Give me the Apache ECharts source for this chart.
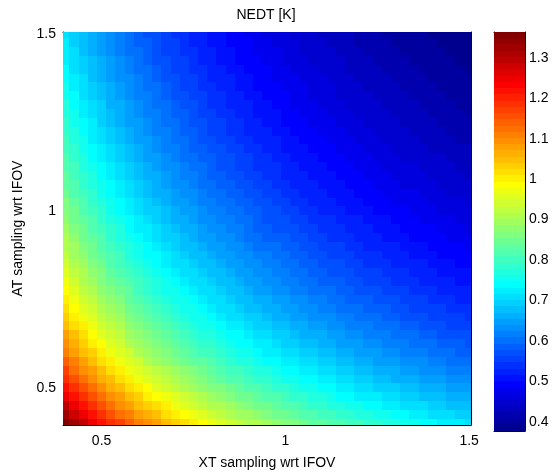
<!DOCTYPE html>
<html>
<head>
<meta charset="utf-8">
<script src="https://cdn.jsdelivr.net/npm/echarts@6/dist/echarts.min.js"></script>
<style>
  html, body { margin: 0; padding: 0; background: #ffffff; }
  #chart { width: 559px; height: 475px; }
</style>
</head>
<body>
<div id="chart"></div>
<script>
// Sampling grid (multiples of the IFOV), cross track and along track
const xtSampling = [0.400, 0.425, 0.450, 0.475, 0.500, 0.525, 0.550, 0.575, 0.600, 0.625, 0.650, 0.675,
                    0.700, 0.725, 0.750, 0.775, 0.800, 0.825, 0.850, 0.875, 0.900, 0.925, 0.950, 0.975,
                    1.000, 1.025, 1.050, 1.075, 1.100, 1.125, 1.150, 1.175, 1.200, 1.225, 1.250, 1.275,
                    1.300, 1.325, 1.350, 1.375, 1.400, 1.425, 1.450, 1.475, 1.500];
const atSampling = [0.400, 0.425, 0.450, 0.475, 0.500, 0.525, 0.550, 0.575, 0.600, 0.625, 0.650, 0.675,
                    0.700, 0.725, 0.750, 0.775, 0.800, 0.825, 0.850, 0.875, 0.900, 0.925, 0.950, 0.975,
                    1.000, 1.025, 1.050, 1.075, 1.100, 1.125, 1.150, 1.175, 1.200, 1.225, 1.250, 1.275,
                    1.300, 1.325, 1.350, 1.375, 1.400, 1.425, 1.450, 1.475, 1.500];

// NEDT [K]; one row per AT sampling value (bottom to top), columns follow xtSampling
const nedtRows = [
  [1.364,1.324,1.287,1.253,1.222,1.193,1.166,1.141,1.117,1.095,1.074,1.054,1.035,1.018,1.001,0.985,0.970,0.955,0.941,0.928,0.915,0.903,0.891,0.880,0.869,0.859,0.849,0.839,0.830,0.821,0.812,0.803,0.795,0.787,0.779,0.772,0.765,0.758,0.751,0.744,0.737,0.731,0.725,0.719,0.713],
  [1.324,1.285,1.249,1.216,1.186,1.158,1.132,1.107,1.084,1.063,1.042,1.023,1.005,0.988,0.972,0.956,0.941,0.927,0.914,0.901,0.889,0.877,0.865,0.854,0.844,0.834,0.824,0.815,0.805,0.797,0.788,0.780,0.772,0.764,0.757,0.749,0.742,0.735,0.729,0.722,0.716,0.710,0.704,0.698,0.692],
  [1.287,1.249,1.214,1.183,1.153,1.126,1.100,1.076,1.054,1.033,1.013,0.995,0.977,0.961,0.945,0.930,0.915,0.902,0.889,0.876,0.864,0.852,0.841,0.831,0.821,0.811,0.801,0.792,0.783,0.775,0.766,0.758,0.751,0.743,0.736,0.729,0.722,0.715,0.709,0.702,0.696,0.690,0.685,0.679,0.673],
  [1.253,1.216,1.183,1.151,1.123,1.096,1.071,1.048,1.027,1.006,0.987,0.969,0.952,0.935,0.920,0.905,0.891,0.878,0.865,0.853,0.841,0.830,0.819,0.809,0.799,0.790,0.780,0.771,0.763,0.755,0.746,0.739,0.731,0.724,0.717,0.710,0.703,0.697,0.690,0.684,0.678,0.672,0.667,0.661,0.656],
  [1.222,1.186,1.153,1.123,1.095,1.069,1.045,1.022,1.001,0.981,0.962,0.945,0.928,0.912,0.897,0.883,0.869,0.856,0.844,0.832,0.821,0.810,0.799,0.789,0.779,0.770,0.761,0.752,0.744,0.736,0.728,0.720,0.713,0.706,0.699,0.692,0.686,0.679,0.673,0.667,0.661,0.656,0.650,0.645,0.640],
  [1.193,1.158,1.126,1.096,1.069,1.044,1.020,0.998,0.977,0.958,0.940,0.922,0.906,0.891,0.876,0.862,0.849,0.836,0.824,0.812,0.801,0.791,0.780,0.771,0.761,0.752,0.743,0.735,0.726,0.719,0.711,0.704,0.696,0.689,0.683,0.676,0.670,0.664,0.658,0.652,0.646,0.640,0.635,0.630,0.625],
  [1.166,1.132,1.100,1.071,1.045,1.020,0.997,0.975,0.955,0.936,0.918,0.902,0.886,0.871,0.856,0.843,0.830,0.817,0.805,0.794,0.783,0.773,0.763,0.753,0.744,0.735,0.726,0.718,0.710,0.702,0.695,0.688,0.681,0.674,0.667,0.661,0.655,0.649,0.643,0.637,0.632,0.626,0.621,0.616,0.611],
  [1.141,1.107,1.076,1.048,1.022,0.998,0.975,0.954,0.935,0.916,0.899,0.882,0.867,0.852,0.838,0.825,0.812,0.800,0.788,0.777,0.766,0.756,0.746,0.737,0.728,0.719,0.711,0.703,0.695,0.687,0.680,0.673,0.666,0.660,0.653,0.647,0.641,0.635,0.629,0.624,0.618,0.613,0.608,0.603,0.598],
  [1.117,1.084,1.054,1.027,1.001,0.977,0.955,0.935,0.915,0.897,0.880,0.864,0.849,0.834,0.821,0.808,0.795,0.783,0.772,0.761,0.751,0.741,0.731,0.722,0.713,0.705,0.696,0.688,0.681,0.673,0.666,0.659,0.652,0.646,0.640,0.634,0.628,0.622,0.616,0.611,0.605,0.600,0.595,0.590,0.586],
  [1.095,1.063,1.033,1.006,0.981,0.958,0.936,0.916,0.897,0.879,0.863,0.847,0.832,0.818,0.804,0.792,0.779,0.768,0.757,0.746,0.736,0.726,0.717,0.708,0.699,0.691,0.683,0.675,0.667,0.660,0.653,0.646,0.640,0.633,0.627,0.621,0.615,0.610,0.604,0.599,0.594,0.589,0.584,0.579,0.574],
  [1.074,1.042,1.013,0.987,0.962,0.940,0.918,0.899,0.880,0.863,0.846,0.831,0.816,0.802,0.789,0.777,0.765,0.753,0.742,0.732,0.722,0.712,0.703,0.694,0.686,0.678,0.670,0.662,0.655,0.648,0.641,0.634,0.628,0.621,0.615,0.609,0.604,0.598,0.593,0.587,0.582,0.577,0.573,0.568,0.563],
  [1.054,1.023,0.995,0.969,0.945,0.922,0.902,0.882,0.864,0.847,0.831,0.816,0.801,0.788,0.775,0.762,0.751,0.739,0.729,0.719,0.709,0.699,0.690,0.682,0.673,0.665,0.658,0.650,0.643,0.636,0.629,0.623,0.616,0.610,0.604,0.598,0.593,0.587,0.582,0.577,0.572,0.567,0.562,0.558,0.553],
  [1.035,1.005,0.977,0.952,0.928,0.906,0.886,0.867,0.849,0.832,0.816,0.801,0.787,0.774,0.761,0.749,0.737,0.726,0.716,0.706,0.696,0.687,0.678,0.670,0.661,0.654,0.646,0.639,0.632,0.625,0.618,0.612,0.605,0.599,0.594,0.588,0.582,0.577,0.572,0.567,0.562,0.557,0.552,0.548,0.543],
  [1.018,0.988,0.961,0.935,0.912,0.891,0.871,0.852,0.834,0.818,0.802,0.788,0.774,0.761,0.748,0.736,0.725,0.714,0.704,0.694,0.685,0.675,0.667,0.658,0.650,0.643,0.635,0.628,0.621,0.614,0.608,0.601,0.595,0.589,0.584,0.578,0.573,0.567,0.562,0.557,0.552,0.548,0.543,0.539,0.534],
  [1.001,0.972,0.945,0.920,0.897,0.876,0.856,0.838,0.821,0.804,0.789,0.775,0.761,0.748,0.736,0.724,0.713,0.702,0.692,0.683,0.673,0.664,0.656,0.648,0.640,0.632,0.625,0.618,0.611,0.604,0.598,0.592,0.586,0.580,0.574,0.569,0.563,0.558,0.553,0.548,0.543,0.539,0.534,0.530,0.526],
  [0.985,0.956,0.930,0.905,0.883,0.862,0.843,0.825,0.808,0.792,0.777,0.762,0.749,0.736,0.724,0.713,0.702,0.691,0.681,0.672,0.663,0.654,0.645,0.637,0.630,0.622,0.615,0.608,0.601,0.595,0.588,0.582,0.576,0.571,0.565,0.560,0.554,0.549,0.544,0.540,0.535,0.530,0.526,0.522,0.517],
  [0.970,0.941,0.915,0.891,0.869,0.849,0.830,0.812,0.795,0.779,0.765,0.751,0.737,0.725,0.713,0.702,0.691,0.681,0.671,0.662,0.652,0.644,0.636,0.628,0.620,0.613,0.605,0.599,0.592,0.586,0.579,0.573,0.567,0.562,0.556,0.551,0.546,0.541,0.536,0.531,0.527,0.522,0.518,0.514,0.509],
  [0.955,0.927,0.902,0.878,0.856,0.836,0.817,0.800,0.783,0.768,0.753,0.739,0.726,0.714,0.702,0.691,0.681,0.671,0.661,0.652,0.643,0.634,0.626,0.618,0.611,0.603,0.596,0.590,0.583,0.577,0.571,0.565,0.559,0.554,0.548,0.543,0.538,0.533,0.528,0.524,0.519,0.515,0.510,0.506,0.502],
  [0.941,0.914,0.889,0.865,0.844,0.824,0.805,0.788,0.772,0.757,0.742,0.729,0.716,0.704,0.692,0.681,0.671,0.661,0.651,0.642,0.634,0.625,0.617,0.609,0.602,0.595,0.588,0.581,0.575,0.569,0.563,0.557,0.551,0.546,0.540,0.535,0.530,0.525,0.521,0.516,0.512,0.507,0.503,0.499,0.495],
  [0.928,0.901,0.876,0.853,0.832,0.812,0.794,0.777,0.761,0.746,0.732,0.719,0.706,0.694,0.683,0.672,0.662,0.652,0.642,0.633,0.625,0.616,0.609,0.601,0.594,0.587,0.580,0.573,0.567,0.561,0.555,0.549,0.543,0.538,0.533,0.528,0.523,0.518,0.513,0.509,0.504,0.500,0.496,0.492,0.488],
  [0.915,0.889,0.864,0.841,0.821,0.801,0.783,0.766,0.751,0.736,0.722,0.709,0.696,0.685,0.673,0.663,0.652,0.643,0.634,0.625,0.616,0.608,0.600,0.593,0.586,0.579,0.572,0.565,0.559,0.553,0.547,0.542,0.536,0.531,0.526,0.521,0.516,0.511,0.506,0.502,0.498,0.493,0.489,0.485,0.481],
  [0.903,0.877,0.852,0.830,0.810,0.791,0.773,0.756,0.741,0.726,0.712,0.699,0.687,0.675,0.664,0.654,0.644,0.634,0.625,0.616,0.608,0.600,0.592,0.585,0.578,0.571,0.564,0.558,0.552,0.546,0.540,0.534,0.529,0.524,0.519,0.514,0.509,0.504,0.500,0.495,0.491,0.487,0.483,0.479,0.475],
  [0.891,0.865,0.841,0.819,0.799,0.780,0.763,0.746,0.731,0.717,0.703,0.690,0.678,0.667,0.656,0.645,0.636,0.626,0.617,0.609,0.600,0.592,0.585,0.577,0.570,0.564,0.557,0.551,0.545,0.539,0.533,0.528,0.522,0.517,0.512,0.507,0.502,0.498,0.493,0.489,0.485,0.481,0.477,0.473,0.469],
  [0.880,0.854,0.831,0.809,0.789,0.771,0.753,0.737,0.722,0.708,0.694,0.682,0.670,0.658,0.648,0.637,0.628,0.618,0.609,0.601,0.593,0.585,0.577,0.570,0.563,0.557,0.550,0.544,0.538,0.532,0.526,0.521,0.516,0.511,0.506,0.501,0.496,0.492,0.487,0.483,0.479,0.475,0.471,0.467,0.463],
  [0.869,0.844,0.821,0.799,0.779,0.761,0.744,0.728,0.713,0.699,0.686,0.673,0.661,0.650,0.640,0.630,0.620,0.611,0.602,0.594,0.586,0.578,0.570,0.563,0.556,0.550,0.543,0.537,0.531,0.526,0.520,0.515,0.509,0.504,0.500,0.495,0.490,0.486,0.481,0.477,0.473,0.469,0.465,0.461,0.458],
  [0.859,0.834,0.811,0.790,0.770,0.752,0.735,0.719,0.705,0.691,0.678,0.665,0.654,0.643,0.632,0.622,0.613,0.603,0.595,0.587,0.579,0.571,0.564,0.557,0.550,0.543,0.537,0.531,0.525,0.519,0.514,0.509,0.503,0.498,0.494,0.489,0.484,0.480,0.476,0.472,0.467,0.464,0.460,0.456,0.452],
  [0.849,0.824,0.801,0.780,0.761,0.743,0.726,0.711,0.696,0.683,0.670,0.658,0.646,0.635,0.625,0.615,0.605,0.596,0.588,0.580,0.572,0.564,0.557,0.550,0.543,0.537,0.531,0.525,0.519,0.513,0.508,0.503,0.498,0.493,0.488,0.483,0.479,0.474,0.470,0.466,0.462,0.458,0.454,0.451,0.447],
  [0.839,0.815,0.792,0.771,0.752,0.735,0.718,0.703,0.688,0.675,0.662,0.650,0.639,0.628,0.618,0.608,0.599,0.590,0.581,0.573,0.565,0.558,0.551,0.544,0.537,0.531,0.525,0.519,0.513,0.508,0.502,0.497,0.492,0.487,0.482,0.478,0.473,0.469,0.465,0.461,0.457,0.453,0.449,0.446,0.442],
  [0.830,0.805,0.783,0.763,0.744,0.726,0.710,0.695,0.681,0.667,0.655,0.643,0.632,0.621,0.611,0.601,0.592,0.583,0.575,0.567,0.559,0.552,0.545,0.538,0.531,0.525,0.519,0.513,0.507,0.502,0.497,0.492,0.487,0.482,0.477,0.473,0.468,0.464,0.460,0.456,0.452,0.448,0.444,0.441,0.437],
  [0.821,0.797,0.775,0.755,0.736,0.719,0.702,0.687,0.673,0.660,0.648,0.636,0.625,0.614,0.604,0.595,0.586,0.577,0.569,0.561,0.553,0.546,0.539,0.532,0.526,0.519,0.513,0.508,0.502,0.497,0.491,0.486,0.481,0.477,0.472,0.468,0.463,0.459,0.455,0.451,0.447,0.443,0.440,0.436,0.432],
  [0.812,0.788,0.766,0.746,0.728,0.711,0.695,0.680,0.666,0.653,0.641,0.629,0.618,0.608,0.598,0.588,0.579,0.571,0.563,0.555,0.547,0.540,0.533,0.526,0.520,0.514,0.508,0.502,0.497,0.491,0.486,0.481,0.476,0.472,0.467,0.463,0.458,0.454,0.450,0.446,0.442,0.439,0.435,0.431,0.428],
  [0.803,0.780,0.758,0.739,0.720,0.704,0.688,0.673,0.659,0.646,0.634,0.623,0.612,0.601,0.592,0.582,0.573,0.565,0.557,0.549,0.542,0.534,0.528,0.521,0.515,0.509,0.503,0.497,0.492,0.486,0.481,0.476,0.471,0.467,0.462,0.458,0.454,0.450,0.445,0.442,0.438,0.434,0.430,0.427,0.424],
  [0.795,0.772,0.751,0.731,0.713,0.696,0.681,0.666,0.652,0.640,0.628,0.616,0.605,0.595,0.586,0.576,0.567,0.559,0.551,0.543,0.536,0.529,0.522,0.516,0.509,0.503,0.498,0.492,0.487,0.481,0.476,0.471,0.467,0.462,0.458,0.453,0.449,0.445,0.441,0.437,0.433,0.430,0.426,0.423,0.419],
  [0.787,0.764,0.743,0.724,0.706,0.689,0.674,0.660,0.646,0.633,0.621,0.610,0.599,0.589,0.580,0.571,0.562,0.554,0.546,0.538,0.531,0.524,0.517,0.511,0.504,0.498,0.493,0.487,0.482,0.477,0.472,0.467,0.462,0.458,0.453,0.449,0.445,0.441,0.437,0.433,0.429,0.426,0.422,0.419,0.415],
  [0.779,0.757,0.736,0.717,0.699,0.683,0.667,0.653,0.640,0.627,0.615,0.604,0.594,0.584,0.574,0.565,0.556,0.548,0.540,0.533,0.526,0.519,0.512,0.506,0.500,0.494,0.488,0.482,0.477,0.472,0.467,0.462,0.458,0.453,0.449,0.444,0.440,0.436,0.432,0.429,0.425,0.421,0.418,0.415,0.411],
  [0.772,0.749,0.729,0.710,0.692,0.676,0.661,0.647,0.634,0.621,0.609,0.598,0.588,0.578,0.569,0.560,0.551,0.543,0.535,0.528,0.521,0.514,0.507,0.501,0.495,0.489,0.483,0.478,0.473,0.468,0.463,0.458,0.453,0.449,0.444,0.440,0.436,0.432,0.428,0.425,0.421,0.417,0.414,0.411,0.407],
  [0.765,0.742,0.722,0.703,0.686,0.670,0.655,0.641,0.628,0.615,0.604,0.593,0.582,0.573,0.563,0.554,0.546,0.538,0.530,0.523,0.516,0.509,0.502,0.496,0.490,0.484,0.479,0.473,0.468,0.463,0.458,0.454,0.449,0.445,0.440,0.436,0.432,0.428,0.424,0.421,0.417,0.414,0.410,0.407,0.404],
  [0.758,0.735,0.715,0.697,0.679,0.664,0.649,0.635,0.622,0.610,0.598,0.587,0.577,0.567,0.558,0.549,0.541,0.533,0.525,0.518,0.511,0.504,0.498,0.492,0.486,0.480,0.474,0.469,0.464,0.459,0.454,0.450,0.445,0.441,0.436,0.432,0.428,0.424,0.421,0.417,0.413,0.410,0.406,0.403,0.400],
  [0.751,0.729,0.709,0.690,0.673,0.658,0.643,0.629,0.616,0.604,0.593,0.582,0.572,0.562,0.553,0.544,0.536,0.528,0.521,0.513,0.506,0.500,0.493,0.487,0.481,0.476,0.470,0.465,0.460,0.455,0.450,0.445,0.441,0.437,0.432,0.428,0.424,0.421,0.417,0.413,0.410,0.406,0.403,0.400,0.396],
  [0.744,0.722,0.702,0.684,0.667,0.652,0.637,0.624,0.611,0.599,0.587,0.577,0.567,0.557,0.548,0.540,0.531,0.524,0.516,0.509,0.502,0.495,0.489,0.483,0.477,0.472,0.466,0.461,0.456,0.451,0.446,0.442,0.437,0.433,0.429,0.425,0.421,0.417,0.413,0.410,0.406,0.403,0.399,0.396,0.393],
  [0.737,0.716,0.696,0.678,0.661,0.646,0.632,0.618,0.605,0.594,0.582,0.572,0.562,0.552,0.543,0.535,0.527,0.519,0.512,0.504,0.498,0.491,0.485,0.479,0.473,0.467,0.462,0.457,0.452,0.447,0.442,0.438,0.433,0.429,0.425,0.421,0.417,0.413,0.410,0.406,0.403,0.399,0.396,0.393,0.390],
  [0.731,0.710,0.690,0.672,0.656,0.640,0.626,0.613,0.600,0.589,0.577,0.567,0.557,0.548,0.539,0.530,0.522,0.515,0.507,0.500,0.493,0.487,0.481,0.475,0.469,0.464,0.458,0.453,0.448,0.443,0.439,0.434,0.430,0.426,0.421,0.417,0.414,0.410,0.406,0.403,0.399,0.396,0.393,0.389,0.386],
  [0.725,0.704,0.685,0.667,0.650,0.635,0.621,0.608,0.595,0.584,0.573,0.562,0.552,0.543,0.534,0.526,0.518,0.510,0.503,0.496,0.489,0.483,0.477,0.471,0.465,0.460,0.454,0.449,0.444,0.440,0.435,0.430,0.426,0.422,0.418,0.414,0.410,0.406,0.403,0.399,0.396,0.393,0.389,0.386,0.383],
  [0.719,0.698,0.679,0.661,0.645,0.630,0.616,0.603,0.590,0.579,0.568,0.558,0.548,0.539,0.530,0.522,0.514,0.506,0.499,0.492,0.485,0.479,0.473,0.467,0.461,0.456,0.451,0.446,0.441,0.436,0.431,0.427,0.423,0.419,0.415,0.411,0.407,0.403,0.400,0.396,0.393,0.389,0.386,0.383,0.380],
  [0.713,0.692,0.673,0.656,0.640,0.625,0.611,0.598,0.586,0.574,0.563,0.553,0.543,0.534,0.526,0.517,0.509,0.502,0.495,0.488,0.481,0.475,0.469,0.463,0.458,0.452,0.447,0.442,0.437,0.432,0.428,0.424,0.419,0.415,0.411,0.407,0.404,0.400,0.396,0.393,0.390,0.386,0.383,0.380,0.377]
];

// Axis extents, tick labels and colour scale limits
const samplingExtent = [0.395, 1.505];
const samplingTicks = [0.5, 1, 1.5];
const colorLimits = [0.377, 1.364];
const colorbarTicks = [0.4, 0.5, 0.6, 0.7, 0.8, 0.9, 1, 1.1, 1.2, 1.3];

const FONT = '"Liberation Sans", Arial, Helvetica, sans-serif';
const FONT_SIZE = 14;

// m-entry jet colormap (dark blue -> blue -> cyan -> yellow -> red -> dark red)
function jetColormap(m) {
  const q = m / 4;
  const clamp = v => Math.max(0, Math.min(1, v));
  const out = [];
  for (let idx = 1; idx <= m; idx++) {
    const r = clamp(Math.min((idx - 1.5 * q) / q, (4.5 * q - idx) / q));
    const g = clamp(Math.min((idx - 0.5 * q) / q, (3.5 * q - idx) / q));
    const b = clamp(Math.min((idx + 0.5 * q) / q, (2.5 * q - idx) / q));
    out.push('rgb(' + Math.round(r * 255) + ',' + Math.round(g * 255) + ',' + Math.round(b * 255) + ')');
  }
  return out;
}
const jet = jetColormap(64);

// One colour band per colormap entry
const bandStep = (colorLimits[1] - colorLimits[0]) / jet.length;
const pieces = jet.map((c, i) => {
  const p = { color: c };
  if (i > 0) p.gte = colorLimits[0] + i * bandStep;
  if (i < jet.length - 1) p.lt = colorLimits[0] + (i + 1) * bandStep;
  return p;
});
const colorbarBands = jet.map((c, i) => {
  const lo = colorLimits[0] + i * bandStep;
  const hi = lo + bandStep;
  return [0, lo, (lo + hi) / 2, hi];
});

// Heat map cells [xt, at, nedt]
const cells = [];
atSampling.forEach((at, j) => {
  xtSampling.forEach((xt, i) => {
    cells.push([xt, at, nedtRows[j][i]]);
  });
});
const halfX = (xtSampling[1] - xtSampling[0]) / 2;
const halfY = (atSampling[1] - atSampling[0]) / 2;

const chart = echarts.init(document.getElementById('chart'), null, { renderer: 'canvas' });

const black = '#000000';
const labelStyle = { color: black, fontSize: FONT_SIZE, fontFamily: FONT };
const fmt = v => String(+(+v).toFixed(2));

function frameAxis(extra) {
  return Object.assign({
    type: 'value',
    axisLine: { show: true, onZero: false, lineStyle: { color: black, width: 1 } },
    splitLine: { show: false },
    axisTick: { show: false },
    axisLabel: { show: false }
  }, extra);
}
function ticks(values) {
  return { show: true, inside: true, length: 4, customValues: values, lineStyle: { color: black } };
}

const option = {
  animation: false,
  backgroundColor: '#ffffff',
  graphic: [{
    type: 'text',
    x: 266,
    y: 15,
    style: {
      text: 'NEDT [K]',
      fill: black,
      font: FONT_SIZE + 'px ' + FONT,
      textAlign: 'center',
      textVerticalAlign: 'middle'
    }
  }],
  grid: [
    { left: 63, top: 32, width: 408, height: 399 },
    { left: 494, top: 32, width: 31, height: 399 }
  ],
  xAxis: [
    frameAxis({
      gridIndex: 0, position: 'bottom',
      min: samplingExtent[0], max: samplingExtent[1],
      axisTick: ticks(samplingTicks),
      axisLabel: Object.assign({ show: true, margin: 9, customValues: samplingTicks, formatter: fmt }, labelStyle),
      name: 'XT sampling wrt IFOV',
      nameLocation: 'middle',
      nameGap: 31,
      nameTextStyle: labelStyle
    }),
    frameAxis({
      gridIndex: 0, position: 'top',
      min: samplingExtent[0], max: samplingExtent[1],
      axisTick: ticks(samplingTicks)
    }),
    frameAxis({ gridIndex: 1, position: 'bottom', min: 0, max: 1 }),
    frameAxis({ gridIndex: 1, position: 'top', min: 0, max: 1 })
  ],
  yAxis: [
    frameAxis({
      gridIndex: 0, position: 'left',
      min: samplingExtent[0], max: samplingExtent[1],
      axisTick: ticks(samplingTicks),
      axisLabel: Object.assign({ show: true, margin: 7, customValues: samplingTicks, formatter: fmt }, labelStyle),
      name: 'AT sampling wrt IFOV',
      nameLocation: 'middle',
      nameGap: 31,
      nameTextStyle: labelStyle
    }),
    frameAxis({
      gridIndex: 0, position: 'right',
      min: samplingExtent[0], max: samplingExtent[1],
      axisTick: ticks(samplingTicks)
    }),
    frameAxis({
      gridIndex: 1, position: 'right',
      min: colorLimits[0], max: colorLimits[1],
      axisTick: ticks(colorbarTicks),
      axisLabel: Object.assign({ show: true, margin: 4, customValues: colorbarTicks, formatter: fmt }, labelStyle)
    }),
    frameAxis({
      gridIndex: 1, position: 'left',
      min: colorLimits[0], max: colorLimits[1],
      axisTick: ticks(colorbarTicks)
    })
  ],
  visualMap: {
    type: 'piecewise',
    show: false,
    dimension: 2,
    seriesIndex: [0, 1],
    pieces: pieces
  },
  series: [
    {
      type: 'custom',
      name: 'NEDT',
      xAxisIndex: 0,
      yAxisIndex: 0,
      dimensions: ['xt', 'at', 'nedt'],
      encode: { x: 0, y: 1, tooltip: 2 },
      data: cells,
      z: 1,
      renderItem: function (params, api) {
        const x = api.value(0), y = api.value(1);
        const p0 = api.coord([x - halfX, y + halfY]);
        const p1 = api.coord([x + halfX, y - halfY]);
        const x0 = Math.round(p0[0]), y0 = Math.round(p0[1]);
        const x1 = Math.round(p1[0]), y1 = Math.round(p1[1]);
        const cs = params.coordSys;
        const shape = echarts.graphic.clipRectByRect(
          { x: x0, y: y0, width: x1 - x0, height: y1 - y0 },
          { x: cs.x, y: cs.y, width: cs.width, height: cs.height }
        );
        if (!shape) return;
        return { type: 'rect', shape: shape, style: { fill: api.visual('color') } };
      }
    },
    {
      type: 'custom',
      name: 'colorbar',
      xAxisIndex: 2,
      yAxisIndex: 2,
      dimensions: ['x', 'lo', 'mid', 'hi'],
      encode: { x: 0, y: [1, 3] },
      data: colorbarBands,
      z: 1,
      renderItem: function (params, api) {
        const p0 = api.coord([0, api.value(3)]);
        const p1 = api.coord([1, api.value(1)]);
        const x0 = Math.round(p0[0]), y0 = Math.round(p0[1]);
        const x1 = Math.round(p1[0]), y1 = Math.round(p1[1]);
        return { type: 'rect', shape: { x: x0, y: y0, width: x1 - x0, height: y1 - y0 }, style: { fill: api.visual('color') } };
      }
    }
  ]
};

chart.setOption(option);
</script>
</body>
</html>
